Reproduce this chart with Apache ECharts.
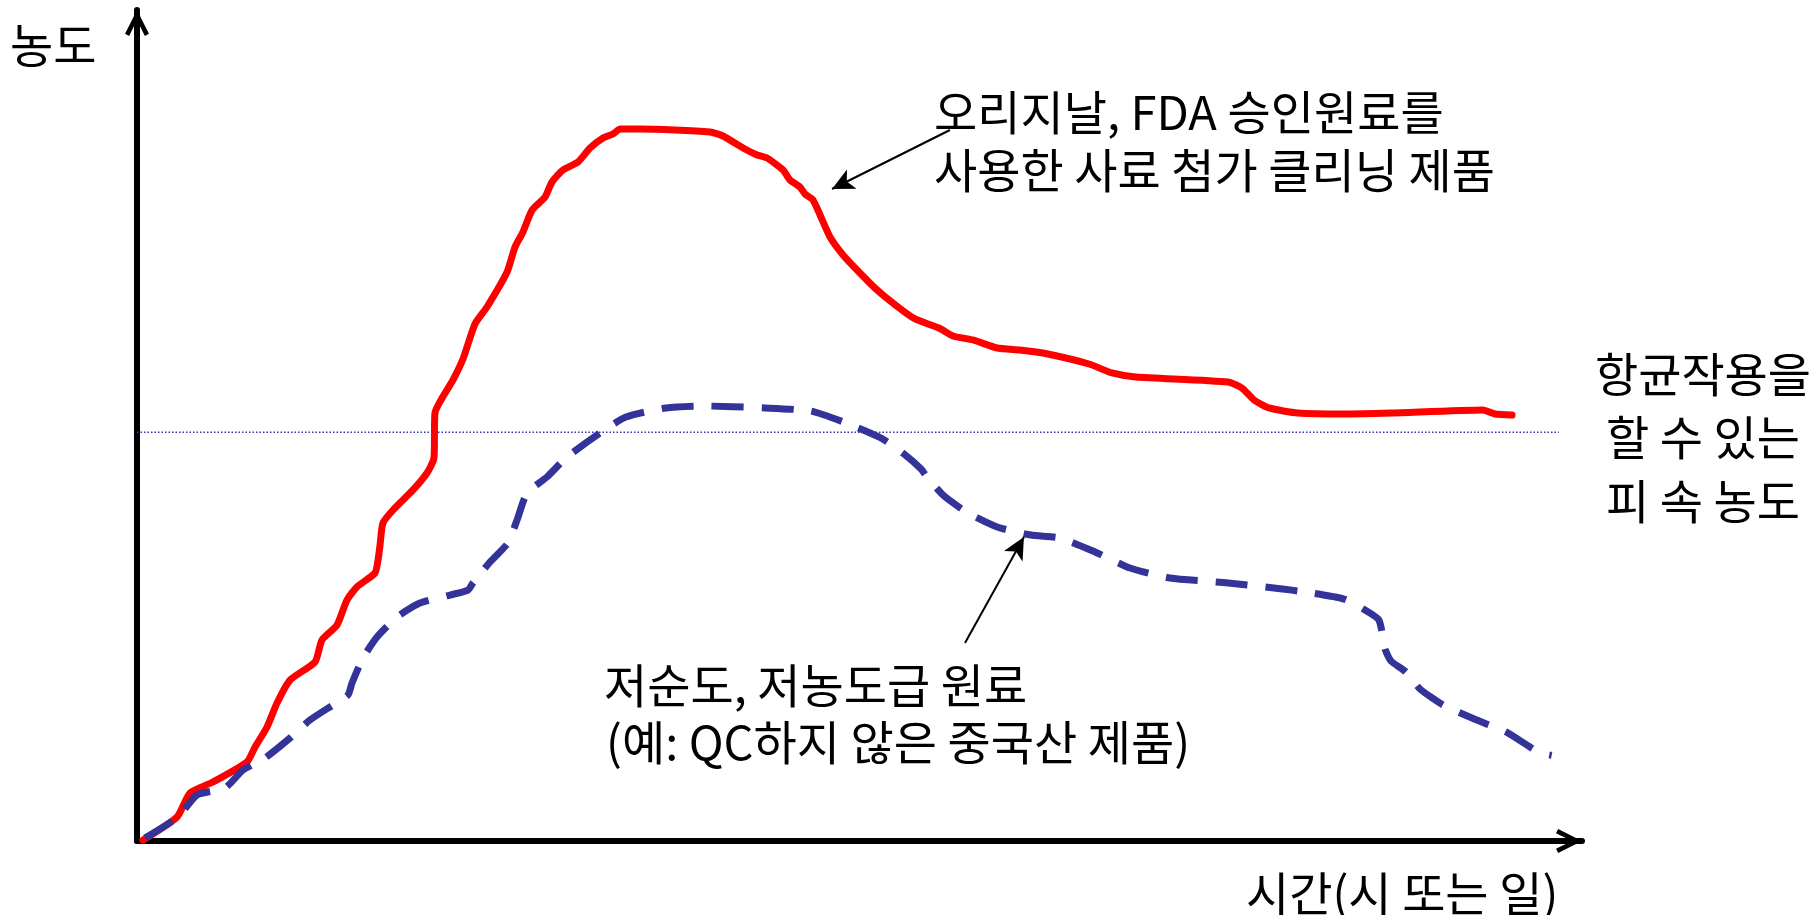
<!DOCTYPE html>
<html>
<head>
<meta charset="utf-8">
<script src="https://cdn.jsdelivr.net/npm/echarts@6/dist/echarts.min.js"></script>
<style>
html,body{margin:0;padding:0;background:#fff;}
#chart{width:1817px;height:915px;}
</style>
</head>
<body>
<div id="chart"></div>
<script>
// Red curve: original / FDA approved raw material (time, concentration)
const redTime = [0.4,2.77,3.67,5.26,7.61,8.17,9.0,9.69,10.59,12.32,12.8,13.84,14.53,15.22,16.47,16.68,16.82,17.02,17.72,19.1,20.07,20.55,20.62,21.87,22.56,23.39,24.22,25.61,26.16,26.71,27.34,28.24,28.72,29.48,30.52,31.35,32.25,32.94,33.43,34.81,39.65,40.55,41.94,42.91,43.6,44.71,45.19,45.88,46.23,46.78,47.27,47.96,48.86,50.03,51.21,52.66,53.84,55.5,56.47,57.85,59.52,61.11,62.7,65.88,67.47,69.13,75.5,76.47,77.3,78.34,80.35,83.53,86.78,93.15,93.98,95.16];
const redConc = [0.1,2.89,5.78,7.1,9.51,11.31,13.72,16.61,19.37,21.54,24.19,25.99,29.0,30.57,32.25,33.81,35.62,38.27,39.83,42.24,44.28,46.09,51.5,55.48,58.0,62.21,64.26,68.47,71.48,73.29,75.93,77.5,79.3,80.75,81.71,83.39,84.6,85.08,85.68,85.68,85.32,84.84,83.39,82.55,82.19,80.75,79.54,78.7,77.86,77.14,75.33,72.68,70.52,68.35,66.31,64.26,62.82,61.73,60.77,60.29,59.33,59.09,58.72,57.4,56.32,55.84,55.23,54.51,53.07,52.11,51.5,51.38,51.5,51.87,51.38,51.26];

// Blue dashed curve: low purity raw material
const blueTime = [0.55,2.84,4.15,6.09,7.34,8.86,10.59,11.97,13.56,14.6,14.88,15.64,16.61,18.0,19.58,21.66,22.91,23.25,24.43,25.67,26.3,26.99,28.37,29.76,32.04,33.84,36.61,39.03,43.46,46.64,49.07,51.49,53.08,54.26,54.67,55.85,57.51,59.52,61.87,63.88,66.3,68.72,71.49,75.5,80.35,83.53,84.98,85.95,86.37,86.78,87.82,88.79,90.38,92.39,94.74,96.4,97.16,97.9];
const blueConc = [0.36,2.89,5.54,6.38,8.54,9.99,12.39,14.56,16.37,17.57,19.01,22.02,24.55,26.96,28.64,29.6,30.2,31.05,33.57,35.86,38.63,41.88,43.8,46.21,49.1,51.02,52.11,52.35,52.11,51.74,50.3,48.5,46.57,44.77,43.8,41.52,39.47,37.79,36.82,36.46,34.78,32.85,31.65,31.05,30.08,29.12,27.8,26.59,23.1,21.66,20.34,18.29,16.37,14.8,13.12,11.31,10.59,10.3];

// Minimum effective (antibacterial) blood concentration
const mecLevel = 49.2;
const mecSpan = [0, 98.4];

// Annotation arrows: [fromTime, fromConc, toTime, toConc]
const arrowRed = [56.26, 85.56, 48.1, 78.46];
const arrowBlue = [57.3, 23.83, 61.38, 36.58];

// Texts
const yAxisTitle = '농도';
const xAxisTitle = '시간(시 또는 일)';
const redNote = ['오리지날, FDA 승인원료를', '사용한 사료 첨가 클리닝 제품'];
const blueNote = ['저순도, 저농도급 원료', '(예: QC하지 않은 중국산 제품)'];
const mecNote = ['항균작용을', '할 수 있는', '피 속 농도'];

const FONT = '"Noto Sans CJK KR", "Noto Sans", sans-serif';
const chevron = 'path://M0,10 L5,0 L10,10 L8.3,10.9 L5,4.2 L1.7,10.9 Z';

function zip(a, b) { return a.map((v, i) => [v, b[i]]); }

function txt(text, x, y, align, size) {
  return {
    type: 'text', x: x, y: y, silent: true,
    style: {
      text: text, fill: '#000',
      font: 'normal ' + size + 'px ' + FONT,
      textAlign: align, verticalAlign: 'middle', textVerticalAlign: 'middle'
    }
  };
}

const chart = echarts.init(document.getElementById('chart'), null, {renderer: 'canvas'});
const fs = 47;
const option = {
  backgroundColor: '#fff',
  animation: false,
  grid: {left: 137, right: 235, top: 10, bottom: 74, containLabel: false},
  xAxis: {
    type: 'value', min: 0, max: 100,
    axisLine: {show: true, onZero: false, lineStyle: {color: '#000', width: 6},
      symbol: ['none', chevron], symbolSize: [26, 26], symbolOffset: [0, -13]},
    axisTick: {show: false}, axisLabel: {show: false}, splitLine: {show: false}
  },
  yAxis: {
    type: 'value', min: 0, max: 100,
    axisLine: {show: true, onZero: false, lineStyle: {color: '#000', width: 6},
      symbol: ['none', chevron], symbolSize: [26, 26], symbolOffset: [0, -13]},
    axisTick: {show: false}, axisLabel: {show: false}, splitLine: {show: false}
  },
  series: [
    {
      type: 'line', name: 'mec', data: [[mecSpan[0], mecLevel], [mecSpan[1], mecLevel]],
      symbol: 'none', silent: true,
      lineStyle: {color: '#3333aa', width: 1.5, type: [1.5, 2]},
      markLine: {
        silent: true, symbol: ['none', 'arrow'], symbolSize: [16, 22],
        label: {show: false},
        lineStyle: {color: '#000', width: 2, type: 'solid'},
        emphasis: {disabled: true},
        data: [
          [{coord: [arrowRed[0], arrowRed[1]]}, {coord: [arrowRed[2], arrowRed[3]]}],
          [{coord: [arrowBlue[0], arrowBlue[1]]}, {coord: [arrowBlue[2], arrowBlue[3]]}]
        ]
      }
    },
    {
      type: 'line', name: 'original', data: zip(redTime, redConc),
      symbol: 'none', smooth: 0.2, silent: true,
      lineStyle: {color: '#ff0000', width: 7, join: 'round', cap: 'round'}
    },
    {
      type: 'line', name: 'lowgrade', data: zip(blueTime, blueConc),
      symbol: 'none', smooth: 0.2, silent: true,
      lineStyle: {color: '#333399', width: 7, type: [32, 18], cap: 'butt'}
    }
  ],
  graphic: [
    txt(yAxisTitle, 10, 45, 'left', fs),
    txt(redNote[0], 934, 112, 'left', fs),
    txt(redNote[1], 934, 170, 'left', fs),
    txt(blueNote[0], 604, 685, 'left', fs),
    txt(blueNote[1], 606, 742, 'left', fs),
    txt(mecNote[0], 1703, 374, 'center', fs),
    txt(mecNote[1], 1703, 437, 'center', fs),
    txt(mecNote[2], 1703, 501, 'center', fs),
    txt(xAxisTitle, 1246, 893, 'left', fs)
  ]
};
chart.setOption(option);
</script>
</body>
</html>
